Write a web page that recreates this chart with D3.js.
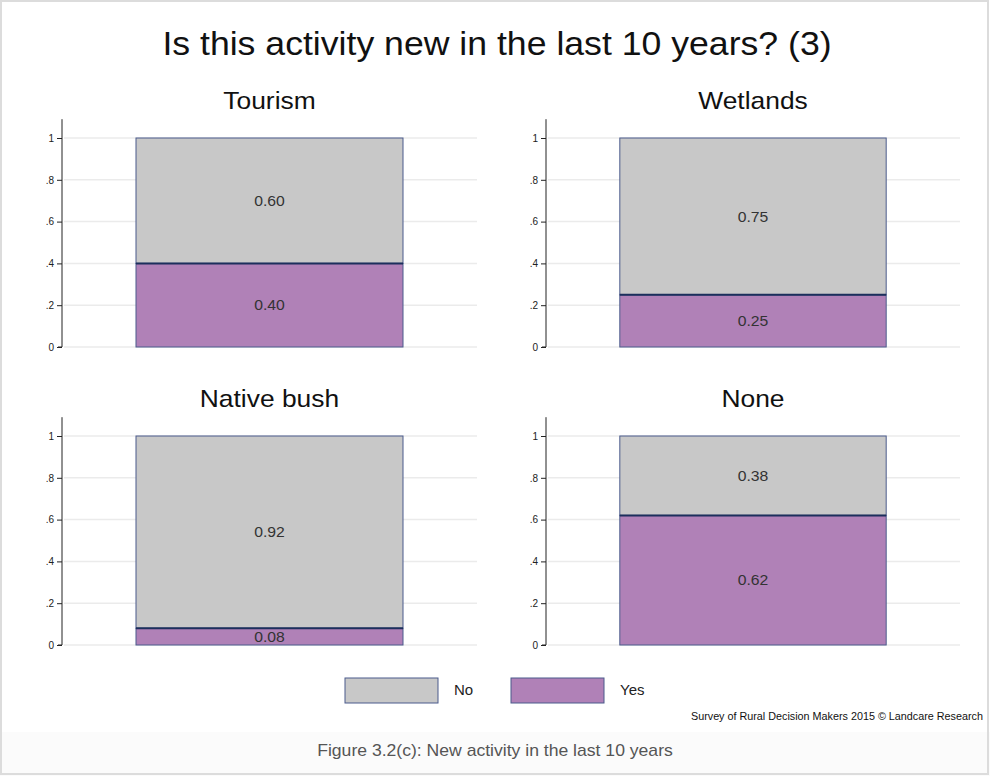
<!DOCTYPE html>
<meta charset="utf-8">
<style>
body{ margin:0; background:#fff; }
text{ font-family:"Liberation Sans", Arial, sans-serif; }
.grid line{ stroke:#ebebeb; stroke-width:1.5px; }
.yaxis path, .yaxis line{ stroke:#222; }
.yaxis text{ font-size:10px; fill:#222; }
.seg{ stroke:#4b5b8c; stroke-width:1px; }
.lbl{ font-size:15px; fill:#333; text-anchor:middle; }
.ptitle{ font-size:24px; text-anchor:middle; fill:#111; }
</style>
<body>
<script src="https://cdnjs.cloudflare.com/ajax/libs/d3/7.8.5/d3.min.js"></script>
<script>
// data
var panels = ["Tourism", "Wetlands", "Native bush", "None"];
var noVals  = [0.60, 0.75, 0.92, 0.38];
var yesVals = [0.40, 0.25, 0.08, 0.62];
var keys = ["Yes", "No"];          // stacking order, bottom first
var legendKeys = ["No", "Yes"];
var yTicks = [0, 0.2, 0.4, 0.6, 0.8, 1];

var colors = {No:"#c8c8c8", Yes:"#b081b7"};

var W = 990, H = 776;
var svg = d3.select("body").append("svg").attr("width", W).attr("height", H);

// the source text is a bit wider than Arial, widen it around its anchor
function widen(sel, k){
    sel.attr("transform", function(){
        var x = +this.getAttribute("x"), y = +this.getAttribute("y");
        return "translate("+x+","+y+") scale("+k+",1) translate("+(-x)+","+(-y)+")";
    });
}

// frame + caption band
svg.append("rect").attr("x",0).attr("y",732).attr("width",W).attr("height",H-732).attr("fill","#fbfbfb");
svg.append("rect").attr("x",1).attr("y",1).attr("width",W-3).attr("height",H-3)
    .attr("fill","none").attr("stroke","#dcdcdc").attr("stroke-width",2);

svg.append("text").attr("x",497).attr("y",55).attr("text-anchor","middle")
    .style("font-size","33px").attr("fill","#111")
    .text("Is this activity new in the last 10 years? (3)")
    .call(widen, 1.08);

var rows = panels.map(function(p,i){ return {panel:p, No:noVals[i], Yes:yesVals[i]}; });
var stacked = d3.stack().keys(keys)(rows);

var pos = [
    {x0:62, x1:477, y0:347},
    {x0:546, x1:960, y0:347},
    {x0:62, x1:477, y0:645},
    {x0:546, x1:960, y0:645}
];

var fmtTick = function(d){ return d===0 ? "0" : d===1 ? "1" : d3.format(".1f")(d).replace(/^0/,""); };

panels.forEach(function(p, i){
    var P = pos[i];
    var y = d3.scaleLinear().domain([0, 1]).range([P.y0, P.y0-209]);
    var x = d3.scaleBand().domain([p]).range([P.x0, P.x1]).padding(0.217);
    var g = svg.append("g");

    g.append("text").attr("class","ptitle").attr("x",(P.x0+P.x1)/2).attr("y",P.y0-238).text(p)
        .call(widen, 1.1);

    g.append("g").attr("class","grid").selectAll("line").data(yTicks).join("line")
        .attr("x1",P.x0+2).attr("x2",P.x1).attr("y1",d=>y(d)).attr("y2",d=>y(d));

    var ax = g.append("g").attr("class","yaxis").attr("transform","translate("+P.x0+",0)")
        .call(d3.axisLeft(y).tickValues(yTicks).tickFormat(fmtTick).tickSize(5).tickSizeOuter(0));
    ax.select(".domain").attr("d","M0,"+y(1.09)+"V"+y(0)+"H-4");

    stacked.forEach(function(s){
        var d = s[i];
        g.append("rect").attr("class","seg")
            .attr("x",x(p)).attr("width",x.bandwidth())
            .attr("y",y(d[1])).attr("height",y(d[0])-y(d[1]))
            .attr("fill",colors[s.key]);
    });
    // dark boundary between Yes and No
    var split = stacked[0][i][1];
    g.append("line").attr("x1",x(p)).attr("x2",x(p)+x.bandwidth())
        .attr("y1",y(split)).attr("y2",y(split)).attr("stroke","#1c2f5c").attr("stroke-width",2);

    stacked.forEach(function(s){
        var d = s[i];
        g.append("text").attr("class","lbl").attr("x",x(p)+x.bandwidth()/2)
            .attr("y",y((d[0]+d[1])/2)).attr("dy","0.35em")
            .text(d3.format(".2f")(d[1]-d[0]))
            .call(widen, 1.05);
    });
});

// legend
var lg = svg.append("g");
var lx = d3.scalePoint().domain(legendKeys).range([345, 511]);
legendKeys.forEach(function(k){
    lg.append("rect").attr("class","seg").attr("x",lx(k)).attr("y",678).attr("width",93).attr("height",25)
        .attr("fill",colors[k]);
    lg.append("text").attr("x",lx(k)+109).attr("y",690).attr("dy","0.35em")
        .style("font-size","15px").attr("fill","#222").text(k);
});

svg.append("text").attr("x",983).attr("y",720).attr("text-anchor","end")
    .style("font-size","10px").attr("fill","#111")
    .text("Survey of Rural Decision Makers 2015 \u00a9 Landcare Research")
    .call(widen, 1.08);

svg.append("text").attr("x",495).attr("y",756).attr("text-anchor","middle")
    .style("font-size","16px").attr("fill","#555")
    .text("Figure 3.2(c): New activity in the last 10 years")
    .call(widen, 1.1);
</script>
</body>
</html>
